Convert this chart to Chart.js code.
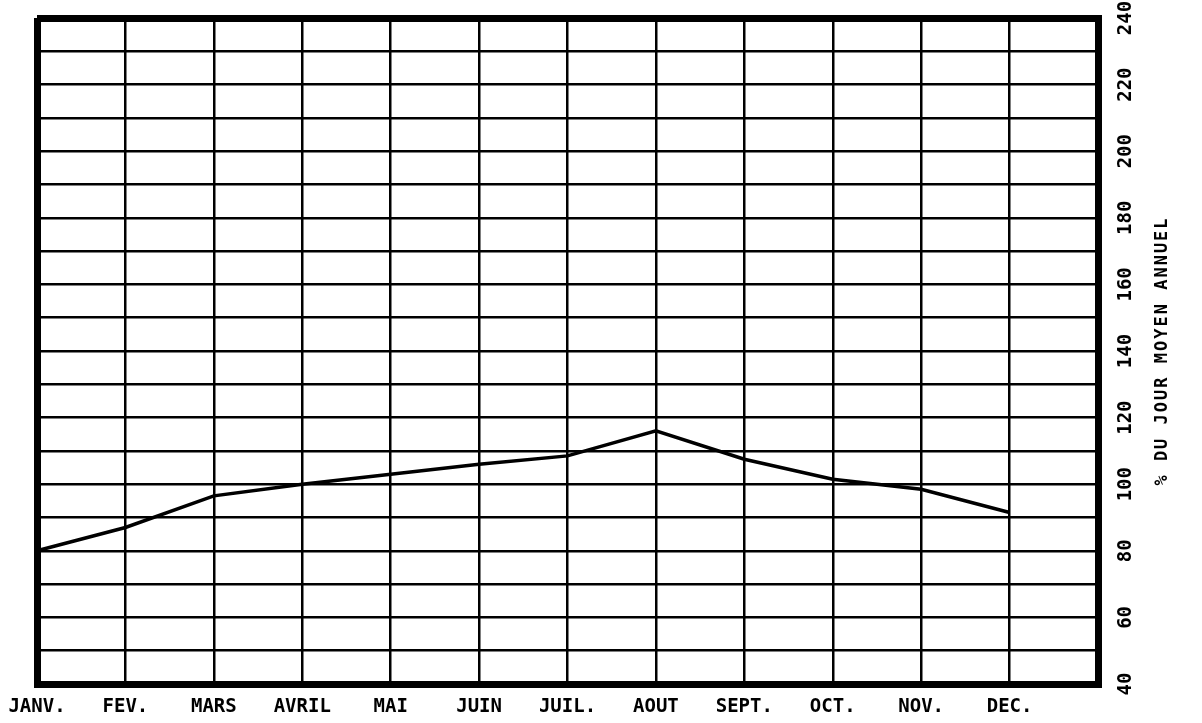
<!DOCTYPE html>
<html>
<head>
<meta charset="utf-8">
<script src="https://cdn.jsdelivr.net/npm/chart.js@4/dist/chart.umd.min.js"></script>
<style>
    html, body { margin: 0; padding: 0; background: #ffffff; }
    #chartBox { width: 1202px; height: 723px; }
</style>
</head>
<body>
<div id="chartBox"><canvas id="monthChart" width="1202" height="723"></canvas></div>
<script>
// mois (le dernier trait de grille n'a pas d'étiquette)
const months = ['JANV.', 'FEV.', 'MARS', 'AVRIL', 'MAI', 'JUIN', 'JUIL.', 'AOUT', 'SEPT.', 'OCT.', 'NOV.', 'DEC.', ''];
// % du jour moyen annuel
const dayPercent = [80, 87, 96.5, 100, 103, 106, 108.5, 116, 107.5, 101.5, 98.5, 91.5];
const yTicks = [40, 60, 80, 100, 120, 140, 160, 180, 200, 220, 240];
const yTitle = '% DU JOUR MOYEN ANNUEL';

const plotFont = { family: '"DejaVu Sans Mono", monospace', size: 19, weight: 'bold' };

// titre vertical lu de bas en haut
const sideTitle = {
    id: 'sideTitle',
    afterDraw(chart) {
        const ctx = chart.ctx;
        const area = chart.chartArea;
        ctx.save();
        ctx.translate(area.right + 65, (area.top + area.bottom) / 2);
        ctx.rotate(-Math.PI / 2);
        ctx.font = 'bold 17px "DejaVu Sans Mono", monospace';
        if ('letterSpacing' in ctx) ctx.letterSpacing = '2px';
        ctx.fillStyle = '#000';
        ctx.textAlign = 'center';
        ctx.textBaseline = 'middle';
        ctx.fillText(yTitle, 0, 0);
        ctx.restore();
    }
};

new Chart(document.getElementById('monthChart'), {
    type: 'line',
    data: {
        labels: months,
        datasets: [{
            data: dayPercent,
            borderColor: '#000',
            borderWidth: 3.5,
            pointRadius: 0,
            tension: 0,
            fill: false
        }]
    },
    options: {
        responsive: false,
        animation: false,
        layout: { padding: { left: 37, top: 18, right: 0, bottom: 0 } },
        plugins: {
            legend: { display: false },
            tooltip: { enabled: false }
        },
        scales: {
            x: {
                type: 'category',
                offset: false,
                afterFit: s => {
                    s.height = 39;
                    s.paddingLeft = 0;
                    s.paddingRight = 0;
                },
                grid: {
                    color: '#000',
                    lineWidth: c => (c.index === 0 || c.index === months.length - 1) ? 7 : 2.5,
                    drawTicks: false,
                    offset: false
                },
                border: { display: true, color: '#000', width: 7 },
                ticks: {
                    color: '#000',
                    font: plotFont,
                    padding: 12,
                    maxRotation: 0,
                    autoSkip: false
                }
            },
            y: {
                position: 'right',
                min: 40,
                max: 240,
                afterFit: s => {
                    s.width = 104;
                    s.paddingTop = 0;
                    s.paddingBottom = 0;
                },
                grid: {
                    color: '#000',
                    lineWidth: c => (c.index === 0 || c.index === 20) ? 7 : 2.5,
                    drawTicks: false
                },
                border: { display: true, color: '#000', width: 7 },
                ticks: {
                    stepSize: 10,
                    autoSkip: false,
                    color: '#000',
                    font: plotFont,
                    padding: 11,
                    minRotation: 90,
                    maxRotation: 90,
                    crossAlign: 'center',
                    callback: v => yTicks.includes(v) ? String(v) : ''
                }
            }
        }
    },
    plugins: [sideTitle]
});
</script>
</body>
</html>
